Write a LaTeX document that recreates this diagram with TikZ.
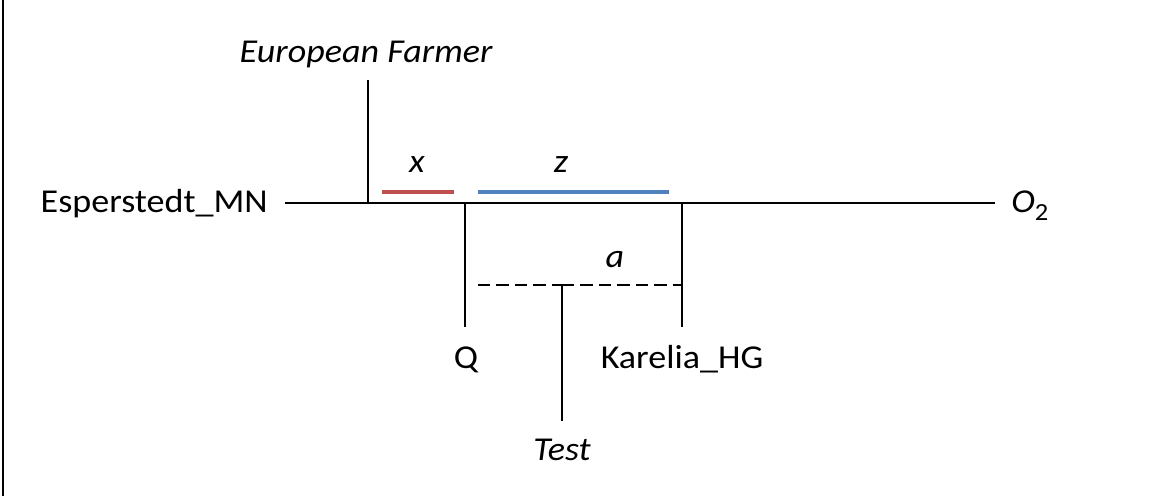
\documentclass[tikz,border=0pt]{standalone}
\usepackage{fontspec}
\setmainfont{Carlito}[FakeStretch=1.08]
\definecolor{xred}{HTML}{C0504D}
\definecolor{zblue}{HTML}{4F81BD}
\tikzset{
  branch/.style={line width=1.3pt},
  admix/.style={line width=1.3pt, dash pattern=on 7pt off 3.5pt},
  stat/.style={line width=2.4pt},
  leaf/.style={font=\fontsize{19}{23}\selectfont, inner sep=0pt},
  param/.style={leaf, font=\fontsize{19}{23}\selectfont\itshape}
}
\begin{document}
\begin{tikzpicture}[x=0.02cm, y=-0.02cm]
  \useasboundingbox (0,0) rectangle (1159,496);
  \draw[line width=1.2pt] (3,0) -- (3,496);
  % tips
  \node[leaf, anchor=base east] (esp) at (268,213) {Esperstedt\_MN};
  \node[leaf, anchor=base west] (out) at (1011,213) {\textit{O}\raisebox{-0.45ex}{\fontsize{14}{14}\selectfont 2}};
  \node[param, anchor=base] (farm) at (366,63) {European Farmer};
  \node[leaf, anchor=base] (q) at (466,368) {Q};
  \node[leaf, anchor=base] (kar) at (682,368) {Karelia\_HG};
  \node[param, anchor=base] (test) at (562,460) {Test};
  % tree
  \coordinate (l0) at (285,203);
  \coordinate (l1) at (995,203);
  \coordinate (jf) at (368,203);
  \coordinate (jq) at (465,203);
  \coordinate (jk) at (682,203);
  \coordinate (dq) at (478,285);
  \coordinate (dk) at (682,285);
  \coordinate (dt) at (562,285);
  \draw[branch] (l0) -- (l1);
  \draw[branch] (jf) -- (368,80);
  \draw[branch] (jq) -- (465,327);
  \draw[branch] (jk) -- (682,327);
  \draw[admix] (dq) -- (dt);
  \draw[admix] (dt) -- (dk);
  \draw[branch] (dt) -- (562,421);
  % f4 statistics
  \draw[stat, xred] (382,192) -- (454,192);
  \draw[stat, zblue] (478,192) -- (669,192);
  \node[param, anchor=base] (xlab) at (417,173) {x};
  \node[param, anchor=base] (zlab) at (561,173) {z};
  \node[param, anchor=base] (alab) at (615,268) {a};
\end{tikzpicture}
\end{document}
